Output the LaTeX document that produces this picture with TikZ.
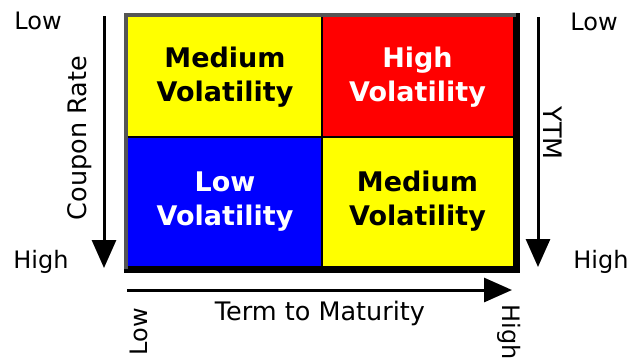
\documentclass[tikz,border=0pt]{standalone}
\usepackage{fontspec}
\setmainfont{DejaVu Sans}
\usetikzlibrary{arrows.meta}
\definecolor{cyell}{RGB}{255,255,0}
\definecolor{cred}{RGB}{255,0,0}
\definecolor{cblue}{RGB}{0,0,255}
\definecolor{frgray}{RGB}{85,85,85}
\begin{document}
\begin{tikzpicture}[x=1pt,y=-1pt,
  cell/.style={rectangle,inner sep=0pt,align=center,
    font=\bfseries\fontsize{27}{34}\selectfont},
  lab/.style={inner sep=0pt,font=\fontsize{24}{28}\selectfont},
  axtitle/.style={inner sep=0pt,font=\fontsize{25.5}{30}\selectfont},
  axisarrow/.style={line width=3pt,-{Triangle[length=28pt,width=24pt]}}]
\useasboundingbox[fill=white] (0,0) rectangle (629,360);
% frame with shadow
\fill[black] (124,13) rectangle (520,273);
\fill[frgray] (124,13) rectangle (516,17);
\fill[frgray] (124,13) rectangle (128,269);
% cells
\node[cell,fill=cyell,minimum width=194pt,minimum height=120pt] (c11) at (225,77) {Medium\\Volatility};
\node[cell,fill=cred,text=white,minimum width=191pt,minimum height=120pt] (c12) at (417.5,77) {High\\Volatility};
\node[cell,fill=cblue,text=white,minimum width=194pt,minimum height=129pt] (c21) at (225,201.5) {Low\\Volatility};
\node[cell,fill=cyell,minimum width=191pt,minimum height=129pt] (c22) at (417.5,201.5) {Medium\\Volatility};
\draw[line width=2pt] (c11.north east) -- (c21.south east);
\draw[line width=2pt] (c11.south west) -- (c12.south east);
% arrows
\coordinate (lt) at (104,16);
\coordinate (lb) at (104,268);
\coordinate (rt) at (538,17);
\coordinate (rb) at (538,267);
\coordinate (bl) at (127,290);
\coordinate (br) at (512,290);
\draw[axisarrow] (lt) -- (lb);
\draw[axisarrow] (rt) -- (rb);
\draw[axisarrow] (bl) -- (br);
% labels
\node[lab] (lowL) at (38,21) {Low};
\node[lab] (highL) at (41,262) {High};
\node[axtitle,rotate=90] (coupon) at (80,138) {Coupon Rate};
\node[lab] (lowR) at (594,22) {Low};
\node[lab] (highR) at (601,262) {High};
\node[axtitle,rotate=-90] (ytm) at (553,133) {YTM};
\node[axtitle] (term) at (320,313) {Term to Maturity};
\node[lab,rotate=90] (lowB) at (139,332) {Low};
\node[lab,rotate=-90] (highB) at (509,332) {High};
\end{tikzpicture}
\end{document}
